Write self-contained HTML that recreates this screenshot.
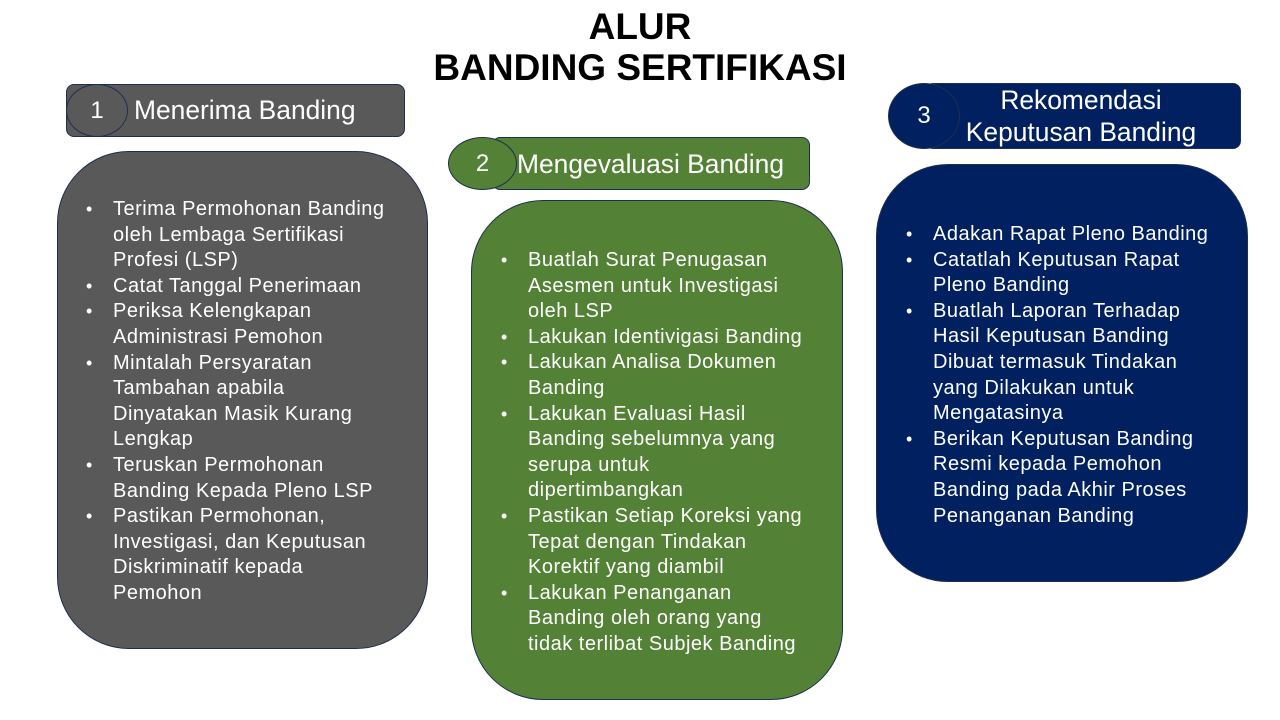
<!DOCTYPE html>
<html><head><meta charset="utf-8">
<style>
body{margin:0;width:1280px;height:720px;background:#fff;position:relative;overflow:hidden;font-family:"Liberation Sans",Arial,sans-serif;}
.a{position:absolute;box-sizing:border-box;}
.t{position:absolute;left:0;width:1280px;text-align:center;font-weight:bold;font-size:37px;color:#000;line-height:40px;}
.hdr{border:1px solid #1f2f4f;border-radius:8px;}
.circ{border:1px solid #1f2f4f;border-radius:50%;color:#fff;font-size:24px;display:flex;align-items:center;justify-content:center;}
.lbl{color:#fff;font-size:26.4px;white-space:nowrap;}
.body{border:1px solid #1f2f4f;border-radius:72px;}
.txt{position:absolute;color:#fff;font-size:20px;letter-spacing:0.5px;line-height:25.6px;white-space:nowrap;}
.txt div{position:relative;padding-left:27px;}
.txt div b{position:absolute;left:0;font-weight:normal;font-size:18px;}
</style></head><body>
<div class="t" style="top:7px">ALUR</div>
<div class="t" style="top:48px">BANDING SERTIFIKASI</div>

<!-- 1 -->
<div class="a hdr" style="left:66px;top:84px;width:339px;height:53px;background:#595959"></div>
<div class="a circ" style="left:66px;top:84px;width:62px;height:53px;background:#595959">1</div>
<div class="a lbl" style="left:134px;top:95px">Menerima Banding</div>
<div class="a body" style="left:57px;top:151px;width:371px;height:498px;background:#595959"></div>
<div class="txt" style="left:86px;top:197px">
<div><b>•</b>Terima Permohonan Banding<br>oleh Lembaga Sertifikasi<br>Profesi (LSP)</div>
<div><b>•</b>Catat Tanggal Penerimaan</div>
<div><b>•</b>Periksa Kelengkapan<br>Administrasi Pemohon</div>
<div><b>•</b>Mintalah Persyaratan<br>Tambahan apabila<br>Dinyatakan Masik Kurang<br>Lengkap</div>
<div><b>•</b>Teruskan Permohonan<br>Banding Kepada Pleno LSP</div>
<div><b>•</b>Pastikan Permohonan,<br>Investigasi, dan Keputusan<br>Diskriminatif kepada<br>Pemohon</div>
</div>

<!-- 2 -->
<div class="a hdr" style="left:492px;top:137px;width:318px;height:53px;background:#538135"></div>
<div class="a circ" style="left:448px;top:137px;width:69px;height:53px;background:#538135">2</div>
<div class="a lbl" style="left:517px;top:149px">Mengevaluasi Banding</div>
<div class="a body" style="left:471px;top:200px;width:372px;height:500px;background:#538135"></div>
<div class="txt" style="left:501px;top:248px">
<div><b>•</b>Buatlah Surat Penugasan<br>Asesmen untuk Investigasi<br>oleh LSP</div>
<div><b>•</b>Lakukan Identivigasi Banding</div>
<div><b>•</b>Lakukan Analisa Dokumen<br>Banding</div>
<div><b>•</b>Lakukan Evaluasi Hasil<br>Banding sebelumnya yang<br>serupa untuk<br>dipertimbangkan</div>
<div><b>•</b>Pastikan Setiap Koreksi yang<br>Tepat dengan Tindakan<br>Korektif yang diambil</div>
<div><b>•</b>Lakukan Penanganan<br>Banding oleh orang yang<br>tidak terlibat Subjek Banding</div>
</div>

<!-- 3 -->
<div class="a hdr" style="left:925px;top:83px;width:316px;height:66px;background:#002060"></div>
<div class="a circ" style="left:888px;top:83px;width:72px;height:66px;background:#002060">3</div>
<div class="a lbl" style="left:925px;top:84px;width:312px;text-align:center;line-height:32px">Rekomendasi<br>Keputusan Banding</div>
<div class="a body" style="left:876px;top:164px;width:372px;height:418px;background:#002060"></div>
<div class="txt" style="left:906px;top:222px">
<div><b>•</b>Adakan Rapat Pleno Banding</div>
<div><b>•</b>Catatlah Keputusan Rapat<br>Pleno Banding</div>
<div><b>•</b>Buatlah Laporan Terhadap<br>Hasil Keputusan Banding<br>Dibuat termasuk Tindakan<br>yang Dilakukan untuk<br>Mengatasinya</div>
<div><b>•</b>Berikan Keputusan Banding<br>Resmi kepada Pemohon<br>Banding pada Akhir Proses<br>Penanganan Banding</div>
</div>
</body></html>
